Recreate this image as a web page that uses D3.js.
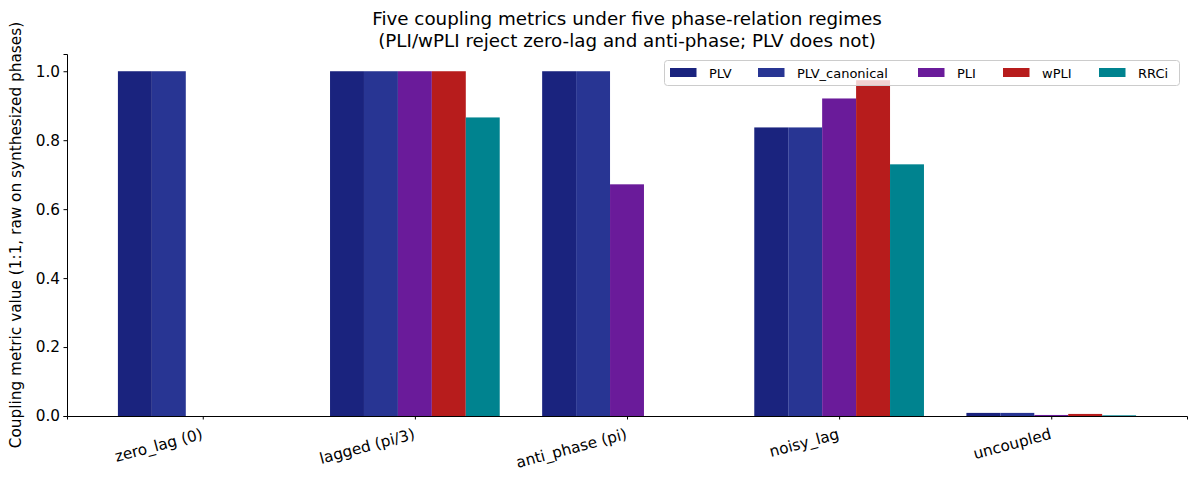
<!DOCTYPE html>
<html>
<head>
<meta charset="utf-8">
<script src="https://cdn.jsdelivr.net/npm/d3@7"></script>
<style>
  body { margin: 0; background: #fff; }
  text { font-family: "DejaVu Sans", sans-serif; fill: #000; }
</style>
</head>
<body>
<div id="chart"></div>
<script>
// regimes on the x axis
const regimes = ["zero_lag (0)", "lagged (pi/3)", "anti_phase (pi)", "noisy_lag", "uncoupled"];
const metrics = ["PLV", "PLV_canonical", "PLI", "wPLI", "RRCi"];
const colors = ["#1a237e", "#283593", "#6a1b9a", "#b71c1c", "#00838f"];

// one array per metric, in regime order
const PLV = [1.0, 1.0, 1.0, 0.837, 0.009];
const PLV_canonical = [1.0, 1.0, 1.0, 0.837, 0.009];
const PLI = [0.0, 1.0, 0.672, 0.921, 0.003];
const wPLI = [0.0, 1.0, 0.0, 0.974, 0.006];
const RRCi = [0.0, 0.866, 0.0, 0.730, 0.002];
const yTicks = [0.0, 0.2, 0.4, 0.6, 0.8, 1.0];

const series = [PLV, PLV_canonical, PLI, wPLI, RRCi];

const W = 1198, H = 483;
const margin = {top: 54, right: 11, bottom: 67, left: 67},
  width = W - margin.left - margin.right,
  height = H - margin.top - margin.bottom;

const svg = d3.select("#chart")
  .append("svg")
  .attr("width", W)
  .attr("height", H);

const g = svg.append("g")
  .attr("transform", `translate(${margin.left}, ${margin.top})`);

// x: continuous like matplotlib, bars 0.16 wide, groups at 0..4
const x = d3.scaleLinear().domain([-0.64, 4.64]).range([0, width]);
const y = d3.scaleLinear().domain([0, 1.05]).range([height, 0]);
const bw = 0.16;

// bars
series.forEach((vals, i) => {
  g.selectAll(".bar" + i)
    .data(vals)
    .join("rect")
    .attr("x", (d, j) => x(j - 0.4 + i * bw))
    .attr("y", d => y(d))
    .attr("width", x(bw) - x(0))
    .attr("height", d => y(0) - y(d))
    .attr("fill", colors[i]);
});

// y axis
const yAxis = g.append("g")
  .call(d3.axisLeft(y).tickValues(yTicks).tickFormat(d3.format(".1f")).tickSizeOuter(0).tickSize(3.5).tickPadding(3.5));
yAxis.selectAll("text").style("font-size", "15.3px").attr("font-family", "DejaVu Sans");
yAxis.select(".domain").attr("stroke", "#000").attr("stroke-width", 1);

// x axis
const xAxis = g.append("g")
  .attr("transform", `translate(0, ${height})`)
  .call(d3.axisBottom(x).tickValues(d3.range(regimes.length)).tickFormat(d => regimes[d]).tickSizeOuter(0).tickSize(3.5));
xAxis.select(".domain").attr("stroke", "#000").attr("stroke-width", 1);
xAxis.selectAll("text")
  .style("font-size", "15.3px")
  .attr("font-family", "DejaVu Sans")
  .attr("text-anchor", "end")
  .attr("x", 0).attr("y", 0).attr("dy", "0.85em")
  .attr("transform", "translate(-3, 10) rotate(-15)");

// y label
svg.append("text")
  .attr("transform", `translate(21, ${margin.top + height / 2}) rotate(-90)`)
  .attr("text-anchor", "middle")
  .style("font-size", "15.3px")
  .text("Coupling metric value (1:1, raw on synthesized phases)");

// title
const cx = margin.left + width / 2;
svg.append("text").attr("x", cx).attr("y", 25).attr("text-anchor", "middle")
  .style("font-size", "18.3px").text("Five coupling metrics under five phase-relation regimes");
svg.append("text").attr("x", cx).attr("y", 46.5).attr("text-anchor", "middle")
  .style("font-size", "18.3px").text("(PLI/wPLI reject zero-lag and anti-phase; PLV does not)");

// legend
const legX = [670, 758, 918, 1003, 1099];
const leg = svg.append("g");
leg.append("rect")
  .attr("x", 664.5).attr("y", 60.5).attr("width", 515).attr("height", 25)
  .attr("rx", 3)
  .attr("fill", "#fff").attr("fill-opacity", 0.8)
  .attr("stroke", "#ccc").attr("stroke-width", 1);
metrics.forEach((m, i) => {
  leg.append("rect").attr("x", legX[i]).attr("y", 68).attr("width", 26.5).attr("height", 9)
    .attr("fill", colors[i]);
  leg.append("text").attr("x", legX[i] + 39).attr("y", 77.5)
    .style("font-size", "13px").text(m);
});
</script>
</body>
</html>
